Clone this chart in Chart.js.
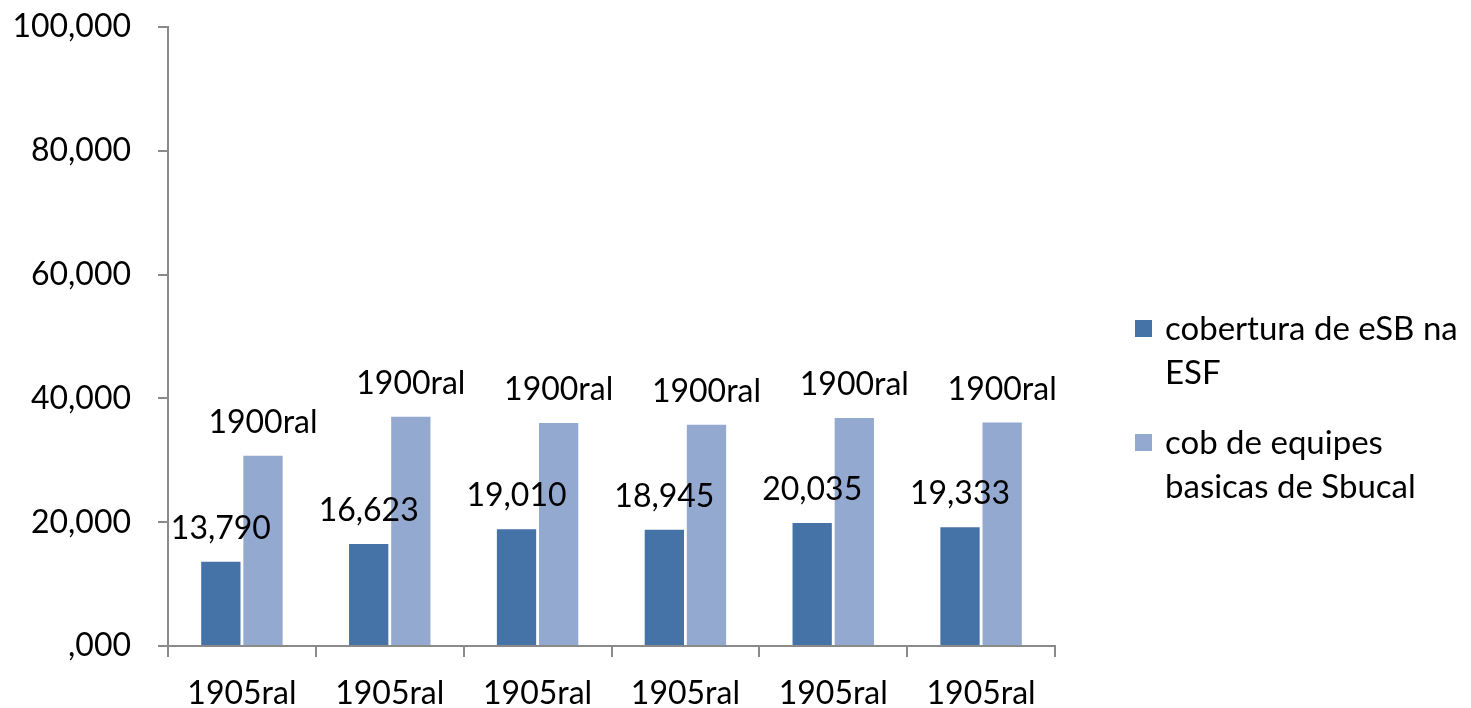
<!DOCTYPE html>
<html>
<head>
<meta charset="utf-8">
<script src="https://cdn.jsdelivr.net/npm/chart.js@4/dist/chart.umd.min.js"></script>
<style>
  html, body { margin: 0; padding: 0; background: #ffffff; }
  #wrap { width: 1471px; height: 708px; }
</style>
</head>
<body>
<div id="wrap"><canvas id="c" width="1471" height="708"></canvas></div>
<script>
const categories = ['1905ral', '1905ral', '1905ral', '1905ral', '1905ral', '1905ral'];
const seriesNames = [['cobertura de eSB na', 'ESF'], ['cob de equipes', 'basicas de Sbucal']];
const esbValues = [13790, 16623, 19010, 18945, 20035, 19333];
const esbLabels = ['13,790', '16,623', '19,010', '18,945', '20,035', '19,333'];
const basicValues = [30900, 37200, 36200, 35900, 37000, 36250];
const basicLabels = ['1900ral', '1900ral', '1900ral', '1900ral', '1900ral', '1900ral'];
const yTickLabels = [',000', '20,000', '40,000', '60,000', '80,000', '100,000'];

const FONT = 'Lato, "Open Sans", sans-serif';
const AXIS = '#8a8a8a';
const colors = ['#4673a7', '#94a9d0'];

const dataLabelPlugin = {
  id: 'dataLabels',
  afterDatasetsDraw(chart) {
    const ctx = chart.ctx;
    ctx.save();
    ctx.font = '32px ' + FONT;
    ctx.fillStyle = '#000';
    ctx.textAlign = 'center';
    ctx.textBaseline = 'alphabetic';
    chart.data.datasets.forEach((ds, di) => {
      const meta = chart.getDatasetMeta(di);
      meta.data.forEach((bar, i) => {
        ctx.fillText(ds.labelsText[i], bar.x, bar.y - 22);
      });
    });
    ctx.restore();
  }
};

const legendPlugin = {
  id: 'sideLegend',
  afterDraw(chart) {
    const ctx = chart.ctx;
    ctx.save();
    ctx.font = '33px ' + FONT;
    ctx.textBaseline = 'middle';
    ctx.textAlign = 'left';
    const items = [
      { y: 329 },
      { y: 443 }
    ];
    const lineH = 44;
    chart.data.datasets.forEach((ds, di) => {
      const y0 = items[di].y;
      ctx.fillStyle = ds.backgroundColor;
      ctx.fillRect(1135, y0 - 9, 17, 17);
      ctx.fillStyle = '#000';
      seriesNames[di].forEach((line, li) => {
        ctx.fillText(line, 1165, y0 + li * lineH);
      });
    });
    ctx.restore();
  }
};

new Chart(document.getElementById('c'), {
  type: 'bar',
  data: {
    labels: categories,
    datasets: [
      { label: seriesNames[0].join(' '), data: esbValues, labelsText: esbLabels,
        backgroundColor: colors[0], borderColor: 'rgba(255,255,255,0.9)', borderWidth: 1,
        categoryPercentage: 0.57, barPercentage: 0.98 },
      { label: seriesNames[1].join(' '), data: basicValues, labelsText: basicLabels,
        backgroundColor: colors[1], borderColor: 'rgba(255,255,255,0.9)', borderWidth: 1,
        categoryPercentage: 0.57, barPercentage: 0.98 }
    ]
  },
  options: {
    responsive: false,
    animation: false,
    layout: { padding: { top: 27, right: 416, bottom: 0, left: 0 } },
    plugins: {
      legend: { display: false },
      tooltip: { enabled: false }
    },
    scales: {
      x: {
        afterFit(s) { s.height = 62; s.paddingLeft = 0; s.paddingRight = 0; },
        grid: { drawOnChartArea: false, offset: true, tickLength: 11, color: AXIS, lineWidth: 2 },
        border: { color: AXIS, width: 2 },
        ticks: { color: '#000', font: { family: FONT, size: 32 }, padding: 17, maxRotation: 0 }
      },
      y: {
        min: 0, max: 100000,
        afterFit(s) { s.width = 168; s.paddingTop = 0; s.paddingBottom = 0; },
        grid: { drawOnChartArea: false, tickLength: 10, color: AXIS, lineWidth: 2 },
        border: { color: AXIS, width: 2 },
        ticks: {
          stepSize: 20000, color: '#000', font: { family: FONT, size: 32 }, padding: 27,
          callback: (v, i) => yTickLabels[i]
        }
      }
    }
  },
  plugins: [dataLabelPlugin, legendPlugin]
});
</script>
</body>
</html>
